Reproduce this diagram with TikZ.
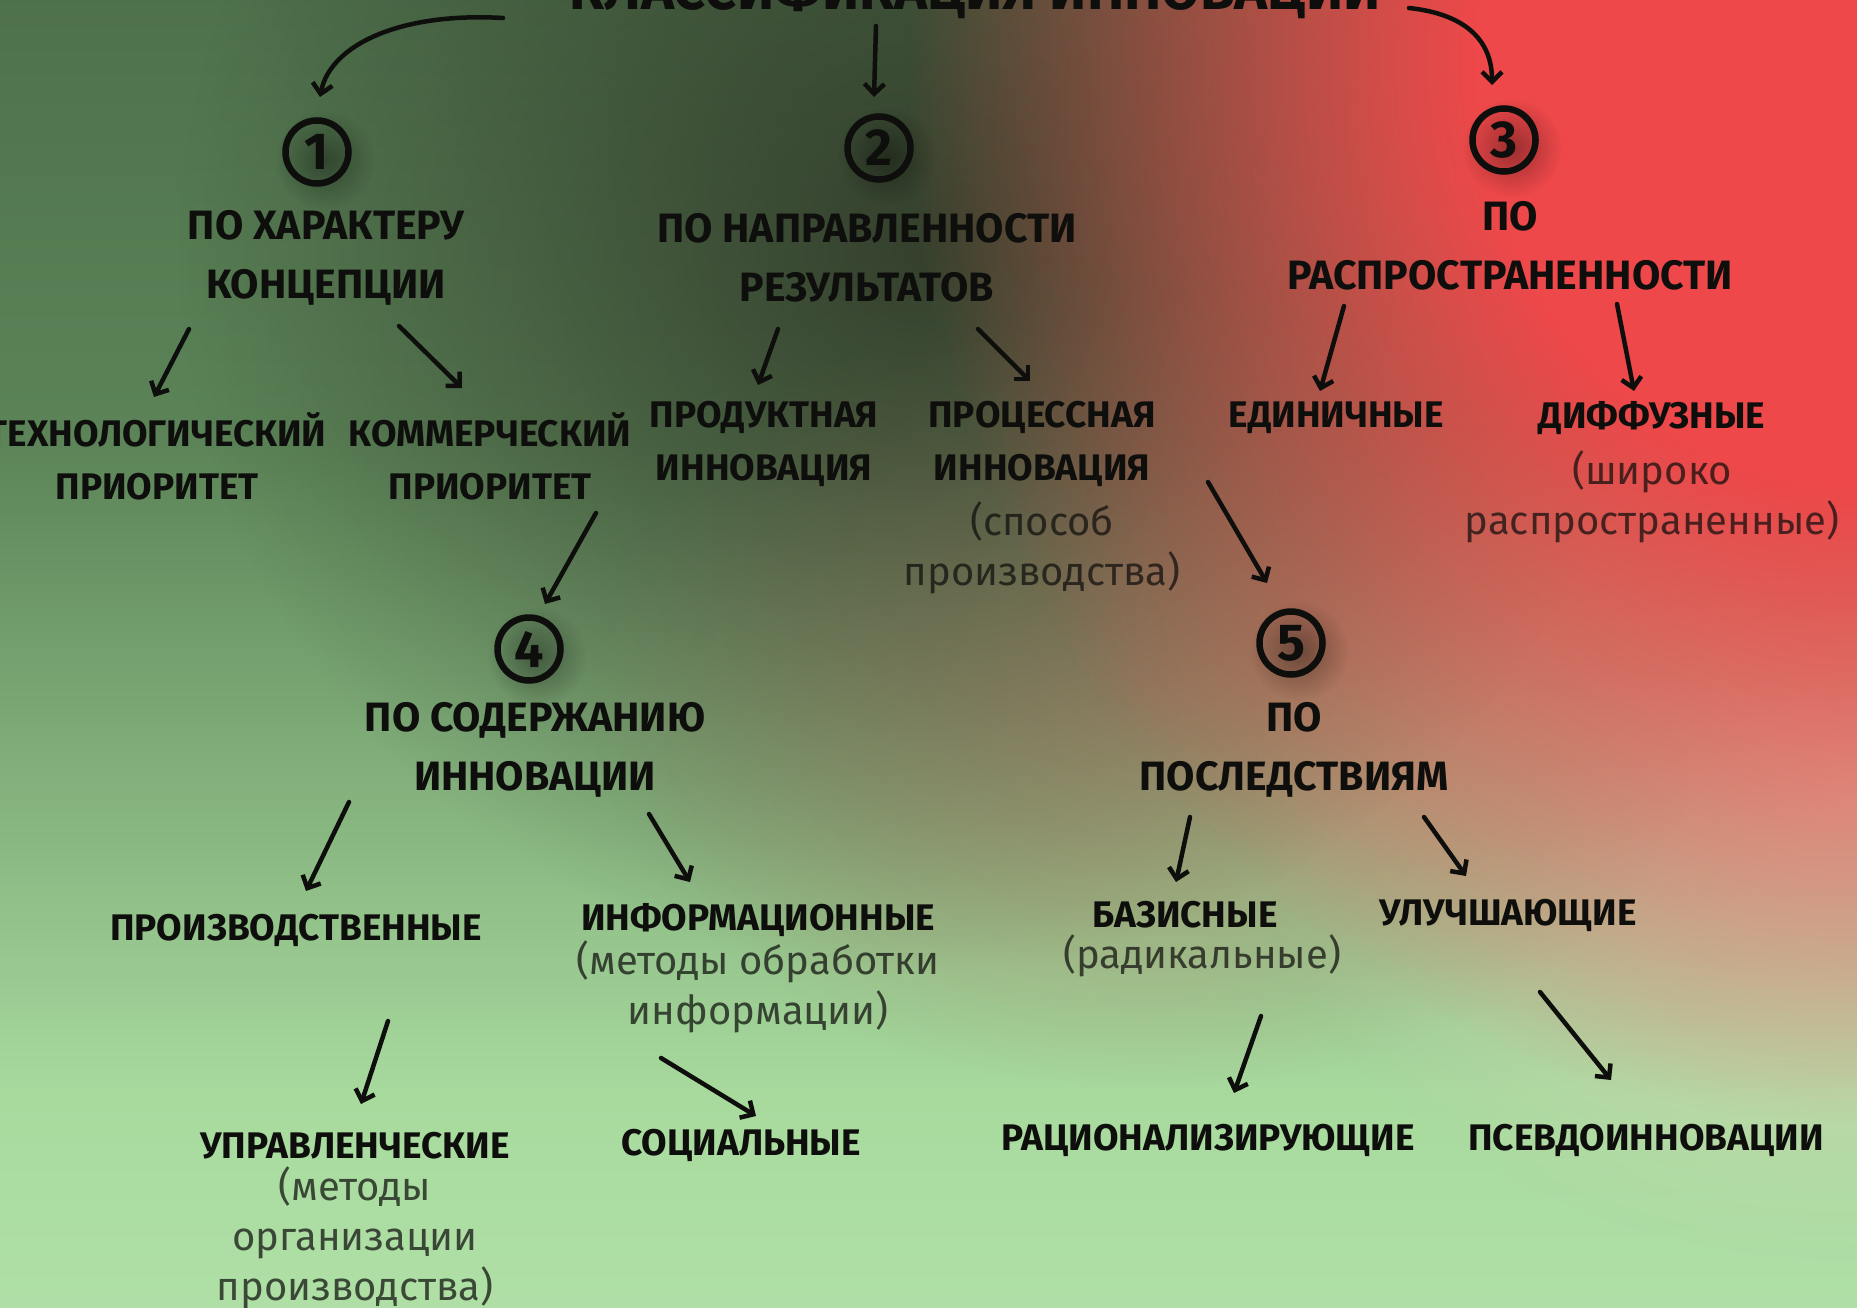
\documentclass[tikz,border=0pt]{standalone}
\usepackage{fontspec}
\setmainfont{Fira Sans}
\usetikzlibrary{arrows.meta,fadings}

\pgfdeclareradialshading{glowsh}{\pgfpointorigin}{color(0bp)=(white); color(10bp)=(white); color(25bp)=(black); color(50bp)=(black)}
\pgfdeclarefading{glow}{\pgfuseshading{glowsh}}
\pgfdeclareradialshading{softsh}{\pgfpointorigin}{color(0bp)=(white); color(25bp)=(black); color(50bp)=(black)}
\pgfdeclarefading{soft}{\pgfuseshading{softsh}}

\definecolor{bgtop}{RGB}{58,86,58}
\definecolor{bgupper}{RGB}{92,132,88}
\definecolor{bglower}{RGB}{168,218,158}
\definecolor{bgbot}{RGB}{198,240,190}
\definecolor{redglow}{RGB}{238,72,74}
\definecolor{pinkglow}{RGB}{240,210,192}
\definecolor{tanglow}{RGB}{178,142,112}
\definecolor{darkglow}{RGB}{36,34,26}
\definecolor{ink}{RGB}{14,14,12}
\pgfdeclareverticalshading{bgv}{100bp}{color(0bp)=(bgbot); color(33bp)=(bglower); color(58bp)=(bgupper); color(100bp)=(bgtop)}

\begin{document}
\begin{tikzpicture}[x=1pt,y=-1pt,
  hd/.style={font=\fontsize{41}{59}\selectfont\bfseries, align=center, inner sep=0pt, text=ink},
  lf/.style={font=\fontsize{37}{53}\selectfont\bfseries, align=center, inner sep=0pt, text=ink},
  lt/.style={font=\fontsize{40}{50}\selectfont, align=center, inner sep=0pt, text=ink, text opacity=0.72},
  num/.style={circle, draw=ink, line width=6.5pt, minimum size=63pt, inner sep=0pt, font=\fontsize{52}{52}\selectfont\bfseries, text=ink},
  arr/.style={draw=ink, line width=4.5pt, line cap=round, line join=round, -{Straight Barb[length=10pt,width=20pt]}},
]
\useasboundingbox (0,0) rectangle (1857,1308);
\clip (0,0) rectangle (1857,1308);

% background
\fill[shading=bgv] (0,0) rectangle (1857,1308);
\fill[pinkglow, path fading=soft, fill opacity=0.7] (1857,780) ellipse (620 and 480);
\fill[tanglow, path fading=soft, fill opacity=0.8] (1150,690) ellipse (560 and 400);
\fill[darkglow, path fading=soft, fill opacity=0.66] (920,250) ellipse (740 and 720);
\fill[redglow, path fading=glow] (1857,60) ellipse (950 and 1060);

% title
\node[font=\fontsize{56}{56}\selectfont\bfseries, anchor=base, text=ink] (title) at (975,10) {КЛАССИФИКАЦИЯ ИННОВАЦИЙ};

% circled numbers with soft shadows
\foreach \p in {(317,152),(879,148),(1504,140),(529,649),(1291,643)}{
  \fill[black, path fading=soft, fill opacity=0.35] \p ++(8,8) circle (50);
}
\node[num] (n1) at (317,152) {1};
\node[num] (n2) at (879,148) {2};
\node[num] (n3) at (1504,140) {3};
\node[num] (n4) at (529,649) {4};
\node[num] (n5) at (1291,643) {5};

% headings
\node[hd] (h1) at (326,258) {ПО ХАРАКТЕРУ\\КОНЦЕПЦИИ};
\node[hd] (h2) at (867,258) {ПО НАПРАВЛЕННОСТИ\\РЕЗУЛЬТАТОВ};
\node[hd] (h3) at (1510,246) {ПО\\РАСПРОСТРАНЕННОСТИ};
\node[hd] (h4) at (535,750) {ПО СОДЕРЖАНИЮ\\ИННОВАЦИИ};
\node[hd] (h5) at (1294,750) {ПО\\ПОСЛЕДСТВИЯМ};

% leaves
\node[lf] (a1) at (157,456) {ТЕХНОЛОГИЧЕСКИЙ\\ПРИОРИТЕТ};
\node[lf] (a2) at (490,456) {КОММЕРЧЕСКИЙ\\ПРИОРИТЕТ};
\node[lf] (b1) at (764,444) {ПРОДУКТНАЯ\\ИННОВАЦИЯ};
\node[lf] (b2) at (1042,444) {ПРОЦЕССНАЯ\\ИННОВАЦИЯ};
\node[lt] (b2n) at (1042,548) {(способ\\производства)};
\node[lf] (c1) at (1336,418) {ЕДИНИЧНЫЕ};
\node[lf] (c2) at (1652,418) {ДИФФУЗНЫЕ};
\node[lt] (c2n) at (1652,497) {(широко\\распространенные)};
\node[lf] (d1) at (296,930) {ПРОИЗВОДСТВЕННЫЕ};
\node[lf] (d2) at (758,920) {ИНФОРМАЦИОННЫЕ};
\node[lt] (d2n) at (758,987) {(методы обработки\\информации)};
\node[lf] (d3) at (355,1146) {УПРАВЛЕНЧЕСКИЕ};
\node[lt] (d3n) at (355,1238) {(методы\\организации\\производства)};
\node[lf] (d4) at (741,1145) {СОЦИАЛЬНЫЕ};
\node[lf] (e1) at (1185,915) {БАЗИСНЫЕ};
\node[lt] (e1n) at (1202,956) {(радикальные)};
\node[lf] (e2) at (1508,915) {УЛУЧШАЮЩИЕ};
\node[lf] (e3) at (1208,1140) {РАЦИОНАЛИЗИРУЮЩИЕ};
\node[lf] (e4) at (1646,1140) {ПСЕВДОИННОВАЦИИ};

% connector end points
\coordinate (t1s) at (503,18);   \coordinate (t1e) at (320,97);
\coordinate (t2s) at (876,26);   \coordinate (t2e) at (874,97);
\coordinate (t3s) at (1409,8);   \coordinate (t3e) at (1492,85);
\coordinate (p1s) at (189,329);  \coordinate (p1e) at (154,397);
\coordinate (p2s) at (399,326);  \coordinate (p2e) at (462,388);
\coordinate (p3s) at (778,329);  \coordinate (p3e) at (758,385);
\coordinate (p4s) at (978,329);  \coordinate (p4e) at (1030,381);
\coordinate (p5s) at (1344,306); \coordinate (p5e) at (1320,391);
\coordinate (p6s) at (1617,304); \coordinate (p6e) at (1634,391);
\coordinate (p7s) at (596,513);  \coordinate (p7e) at (545,604);
\coordinate (p8s) at (1208,482); \coordinate (p8e) at (1267,583);
\coordinate (p9s) at (349,802);  \coordinate (p9e) at (306,891);
\coordinate (p10s) at (649,814); \coordinate (p10e) at (690,882);
\coordinate (p11s) at (1190,817);\coordinate (p11e) at (1176,882);
\coordinate (p12s) at (1424,817);\coordinate (p12e) at (1466,876);
\coordinate (p13s) at (388,1021);\coordinate (p13e) at (361,1104);
\coordinate (p14s) at (661,1058);\coordinate (p14e) at (756,1116);
\coordinate (p15s) at (1261,1016);\coordinate (p15e) at (1234,1093);
\coordinate (p16s) at (1540,992);\coordinate (p16e) at (1611,1080);

% connectors
\draw[arr] (t1s) .. controls (400,12) and (330,45) .. (t1e);
\draw[arr] (t2s) -- (t2e);
\draw[arr] (t3s) .. controls (1465,14) and (1492,40) .. (t3e);
\foreach \i in {1,...,16}{ \draw[arr] (p\i s) -- (p\i e); }
\end{tikzpicture}
\end{document}
